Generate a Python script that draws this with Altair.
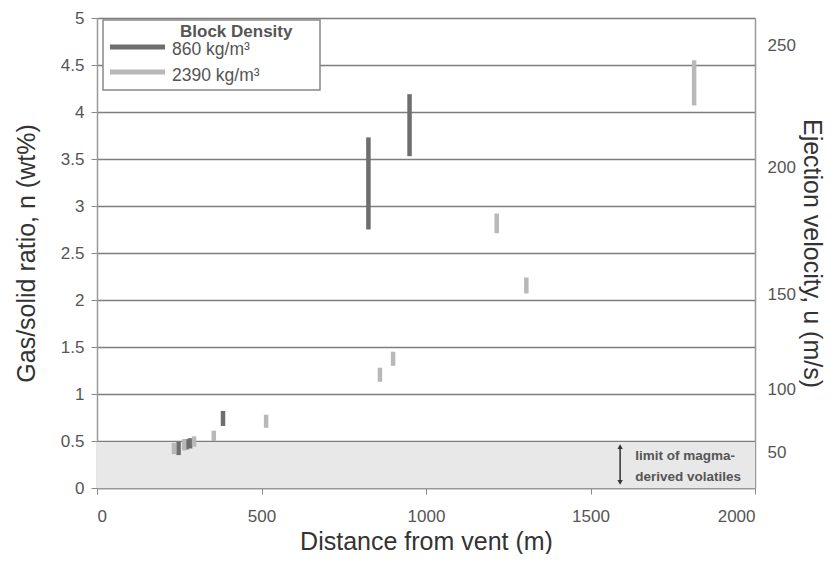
import altair as alt
import pandas as pd

# ---- data ----
dark_dist = [248, 272, 283, 383, 825, 950]
dark_lo = [0.35, 0.41, 0.42, 0.66, 2.75, 3.53]
dark_hi = [0.49, 0.52, 0.53, 0.82, 3.73, 4.19]

light_dist = [234, 265, 295, 355, 514, 860, 900, 1215, 1305, 1815]
light_lo = [0.36, 0.40, 0.44, 0.50, 0.64, 1.13, 1.30, 2.71, 2.07, 4.07]
light_hi = [0.48, 0.52, 0.55, 0.61, 0.78, 1.28, 1.45, 2.92, 2.24, 4.55]

series = ["860 kg/m³", "2390 kg/m³"]
colors = ["#6e6e6e", "#b8b8b8"]

# right axis: velocity labels and the gas/solid ratio they sit at
vel_labels = ["50", "100", "150", "200", "250"]
vel_pos = [0.38, 1.05, 2.06, 3.41, 4.71]

rows = []
for d, lo, hi in zip(dark_dist, dark_lo, dark_hi):
    rows.append({"dist": d, "lo": lo, "hi": hi, "density": series[0]})
for d, lo, hi in zip(light_dist, light_lo, light_hi):
    rows.append({"dist": d, "lo": lo, "hi": hi, "density": series[1]})
df = pd.DataFrame(rows)

xscale = alt.Scale(domain=[0, 2000], nice=False)
yscale = alt.Scale(domain=[0, 5], nice=False)
cscale = alt.Scale(domain=series, range=colors)

FONT = "Liberation Sans"
TXT = "#555"

x_axis = alt.Axis(
    values=[0, 500, 1000, 1500, 2000], format="d", grid=False, title="Distance from vent (m)",
    tickSize=6, tickColor="#888", domainColor="#999", domainWidth=1.5,
    labelFontSize=17, labelColor=TXT, labelPadding=14,
    titleFontSize=25, titleFontWeight="normal", titleColor="#333", titlePadding=5,
)
y_axis = alt.Axis(
    values=[0, 0.5, 1, 1.5, 2, 2.5, 3, 3.5, 4, 4.5, 5], format="~g", grid=True,
    gridColor="#7d7d7d", gridWidth=1.5, title="Gas/solid ratio, n (wt%)",
    tickSize=6, tickColor="#888", domainColor="#999", domainWidth=1.5,
    labelFontSize=17, labelColor=TXT, labelPadding=7,
    titleFontSize=25, titleFontWeight="normal", titleColor="#333", titlePadding=21,
)

shade = alt.Chart(pd.DataFrame({"x": [0], "x2": [2000], "y": [0], "y2": [0.49]})).mark_rect(
    color="#e8e8e8"
).encode(
    x=alt.X("x:Q", scale=xscale, axis=x_axis),
    x2="x2:Q",
    y=alt.Y("y:Q", scale=yscale, axis=y_axis),
    y2="y2:Q",
)

bars = alt.Chart(df).mark_rule(strokeWidth=4.5).encode(
    x=alt.X("dist:Q", scale=xscale),
    y=alt.Y("lo:Q", scale=yscale, axis=None),
    y2="hi:Q",
    color=alt.Color("density:N", scale=cscale, legend=None),
)

lexpr = " : ".join(
    f"datum.value < {p + 0.01} ? '{l}'" for p, l in zip(vel_pos, vel_labels)
) + " : ''"
right_axis = alt.Axis(
    orient="right", values=vel_pos, labelExpr=lexpr, grid=False, ticks=False,
    domainColor="#999", domainWidth=1.5, title="Ejection velocity, u (m/s)",
    labelFontSize=17, labelColor=TXT, labelPadding=12,
    titleFontSize=25, titleFontWeight="normal", titleColor="#333", titlePadding=3,
)
right = alt.Chart(pd.DataFrame({"v": vel_pos})).mark_point(opacity=0).encode(
    y=alt.Y("v:Q", scale=yscale, axis=right_axis),
)

arrow = alt.Chart(pd.DataFrame({"x": [1590], "y": [0.05], "y2": [0.45]})).mark_rule(
    color="#333", strokeWidth=1.5
).encode(x=alt.X("x:Q", scale=xscale), y=alt.Y("y:Q", scale=yscale, axis=None), y2="y2:Q")
heads = alt.Chart(pd.DataFrame({"x": [1590, 1590], "y": [0.44, 0.06],
                                "s": ["triangle-up", "triangle-down"]})).mark_point(
    filled=True, color="#333", size=28, opacity=1
).encode(
    x=alt.X("x:Q", scale=xscale), y=alt.Y("y:Q", scale=yscale, axis=None),
    shape=alt.Shape("s:N", scale=None),
)
note = alt.Chart(pd.DataFrame({"x": [1636, 1636], "y": [0.34, 0.12],
                               "t": ["limit of magma-", "derived volatiles"]})).mark_text(
    align="left", baseline="middle", fontSize=13.5, fontWeight="bold", color=TXT, font=FONT
).encode(x=alt.X("x:Q", scale=xscale), y=alt.Y("y:Q", scale=yscale, axis=None), text="t:N")

# ---- hand-drawn legend box (pixel positions inside the plot area) ----
one = pd.DataFrame({"k": [0]})
leg_box = alt.Chart(one).mark_rect(fill="white", stroke="#888", strokeWidth=1.5).encode(
    x=alt.value(6), x2=alt.value(223), y=alt.value(2), y2=alt.value(72)
)
leg_title = alt.Chart(one).mark_text(
    text="Block Density", align="left", baseline="middle", fontSize=17,
    fontWeight="bold", color=TXT, font=FONT
).encode(x=alt.value(83), y=alt.value(14))
leg_df = pd.DataFrame({"density": series, "ly": [29, 54], "ty": [32, 58]})
leg_lines = alt.Chart(leg_df).mark_rule(strokeWidth=5).encode(
    x=alt.value(13), x2=alt.value(68), y=alt.Y("ly:Q", scale=None, axis=None),
    color=alt.Color("density:N", scale=cscale, legend=None),
)
leg_labels = alt.Chart(leg_df).mark_text(
    align="left", baseline="middle", fontSize=17.5, color=TXT, font=FONT
).encode(x=alt.value(75), y=alt.Y("ty:Q", scale=None, axis=None), text="density:N")

chart = alt.layer(
    shade, bars, arrow, heads, note, leg_box, leg_title, leg_lines, leg_labels, right
).resolve_axis(y="independent").properties(
    width=658, height=470,
    autosize=alt.AutoSizeParams(type="none"),
    padding={"left": 89, "top": 10, "right": 72, "bottom": 66},
).configure(font=FONT).configure_view(stroke=None)

chart.save("out.html", embed_options={"renderer": "svg", "actions": False})
